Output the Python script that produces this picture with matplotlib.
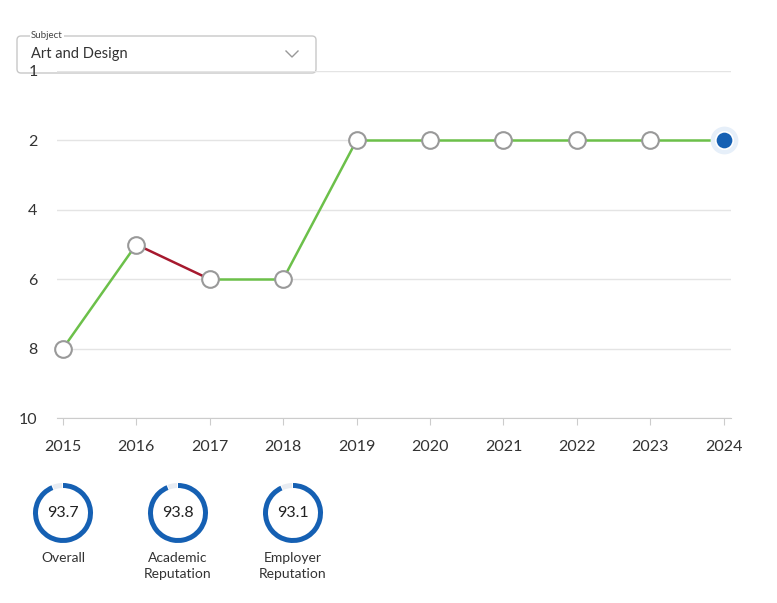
import numpy as np
import matplotlib.pyplot as plt
from matplotlib.patches import Wedge, FancyBboxPatch

plt.rcParams['font.family'] = ['Lato', 'DejaVu Sans']

years = [2015, 2016, 2017, 2018, 2019, 2020, 2021, 2022, 2023, 2024]
ranks = [8, 5, 6, 6, 2, 2, 2, 2, 2, 2]
yticks = [1, 2, 4, 6, 8, 10]

scores = [93.7, 93.8, 93.1]
score_labels = ["Overall", "Academic\nReputation", "Employer\nReputation"]

subject = "Art and Design"

green = "#6cc04a"
red = "#a6192e"
blue = "#1560b3"


# rank 1 gets the same gap as 2 ranks
def fwd(v):
    v = np.asarray(v, dtype=float)
    return np.where(v >= 2, v, 2 * v - 2)


def inv(u):
    u = np.asarray(u, dtype=float)
    return np.where(u >= 2, u, (u + 2) / 2)


W, H = 777, 603
fig = plt.figure(figsize=(W / 100, H / 100), dpi=100)

# overlay in pixel coords for dropdown (behind the chart)
ov = fig.add_axes([0, 0, 1, 1], zorder=0)
ov.set_xlim(0, W)
ov.set_ylim(H, 0)
ov.axis('off')
box = FancyBboxPatch((17, 36), 299, 37, boxstyle="round,pad=0,rounding_size=4",
                     fc='white', ec='#c8c8c8', lw=1)
ov.add_patch(box)
ov.text(31, 36, "Subject", fontsize=7, color='#444444', va='center', ha='left',
        bbox=dict(fc='white', ec='none', pad=1))
ov.text(31, 54, subject, fontsize=10.5, color='#333333', va='center', ha='left')
ov.plot([286, 292, 298], [51, 57, 51], color='#999999', lw=1)

ax = fig.add_axes([57 / W, 1 - 418 / H, (731 - 57) / W, (418 - 71) / H], zorder=2)
ax.patch.set_alpha(0)
ax.set_yscale('function', functions=(fwd, inv))
ax.set_ylim(10, 1)
ax.set_xlim(2014.92, 2024.1)

for i in range(len(years) - 1):
    c = red if ranks[i + 1] > ranks[i] else green
    ax.plot(years[i:i + 2], ranks[i:i + 2], color=c, lw=1.8, zorder=2)

ax.plot(years[:-1], ranks[:-1], 'o', ms=12, mfc='white', mec='#999999', mew=1.5,
        zorder=3, clip_on=False)
ax.plot(years[-1], ranks[-1], 'o', ms=20, mfc='#e6eff9', mec='none', zorder=3, clip_on=False)
ax.plot(years[-1], ranks[-1], 'o', ms=12.5, mfc=blue, mec='white', mew=1.2, zorder=4,
        clip_on=False)

ax.set_yticks(yticks)
ax.set_yticklabels([str(t) for t in yticks])
ax.yaxis.set_minor_locator(plt.NullLocator())
ax.set_xticks(years)
ax.set_xticklabels([str(y) for y in years])
ax.grid(axis='y', color='#e4e4e4', lw=1)
ax.set_axisbelow(True)
for s in ['top', 'right', 'left']:
    ax.spines[s].set_visible(False)
ax.spines['bottom'].set_color('#cccccc')
ax.tick_params(axis='y', length=0, pad=14, labelsize=11.5, labelcolor='#333333')
ax.tick_params(axis='x', length=5, color='#cccccc', pad=11, labelsize=11.5, labelcolor='#333333')

ov_ring = fig.add_axes([0, 0, 1, 1], zorder=6)
ov_ring.set_xlim(0, W)
ov_ring.set_ylim(0, H)
ov_ring.set_aspect('equal')
ov_ring.axis('off')
ov_ring.patch.set_alpha(0)
centers_x = [63, 178, 293]
cy = H - 513
for cx, sc, lab in zip(centers_x, scores, score_labels):
    ang = 360 * sc / 100
    ov_ring.add_patch(Wedge((cx, cy), 30, 90 - ang, 90, width=5, fc=blue, ec='none'))
    ov_ring.add_patch(Wedge((cx, cy), 30, 90 + 2, 90 + 360 - ang - 2, width=5,
                            fc='#e8ecf2', ec='none'))
    ov_ring.text(cx, cy, f"{sc}", fontsize=11.5, ha='center', va='center', color='#222222')
    ov_ring.text(cx, H - 552, lab, fontsize=10, ha='center', va='top', color='#333333',
                 linespacing=1.45)

fig.savefig("out.png", dpi=100)
